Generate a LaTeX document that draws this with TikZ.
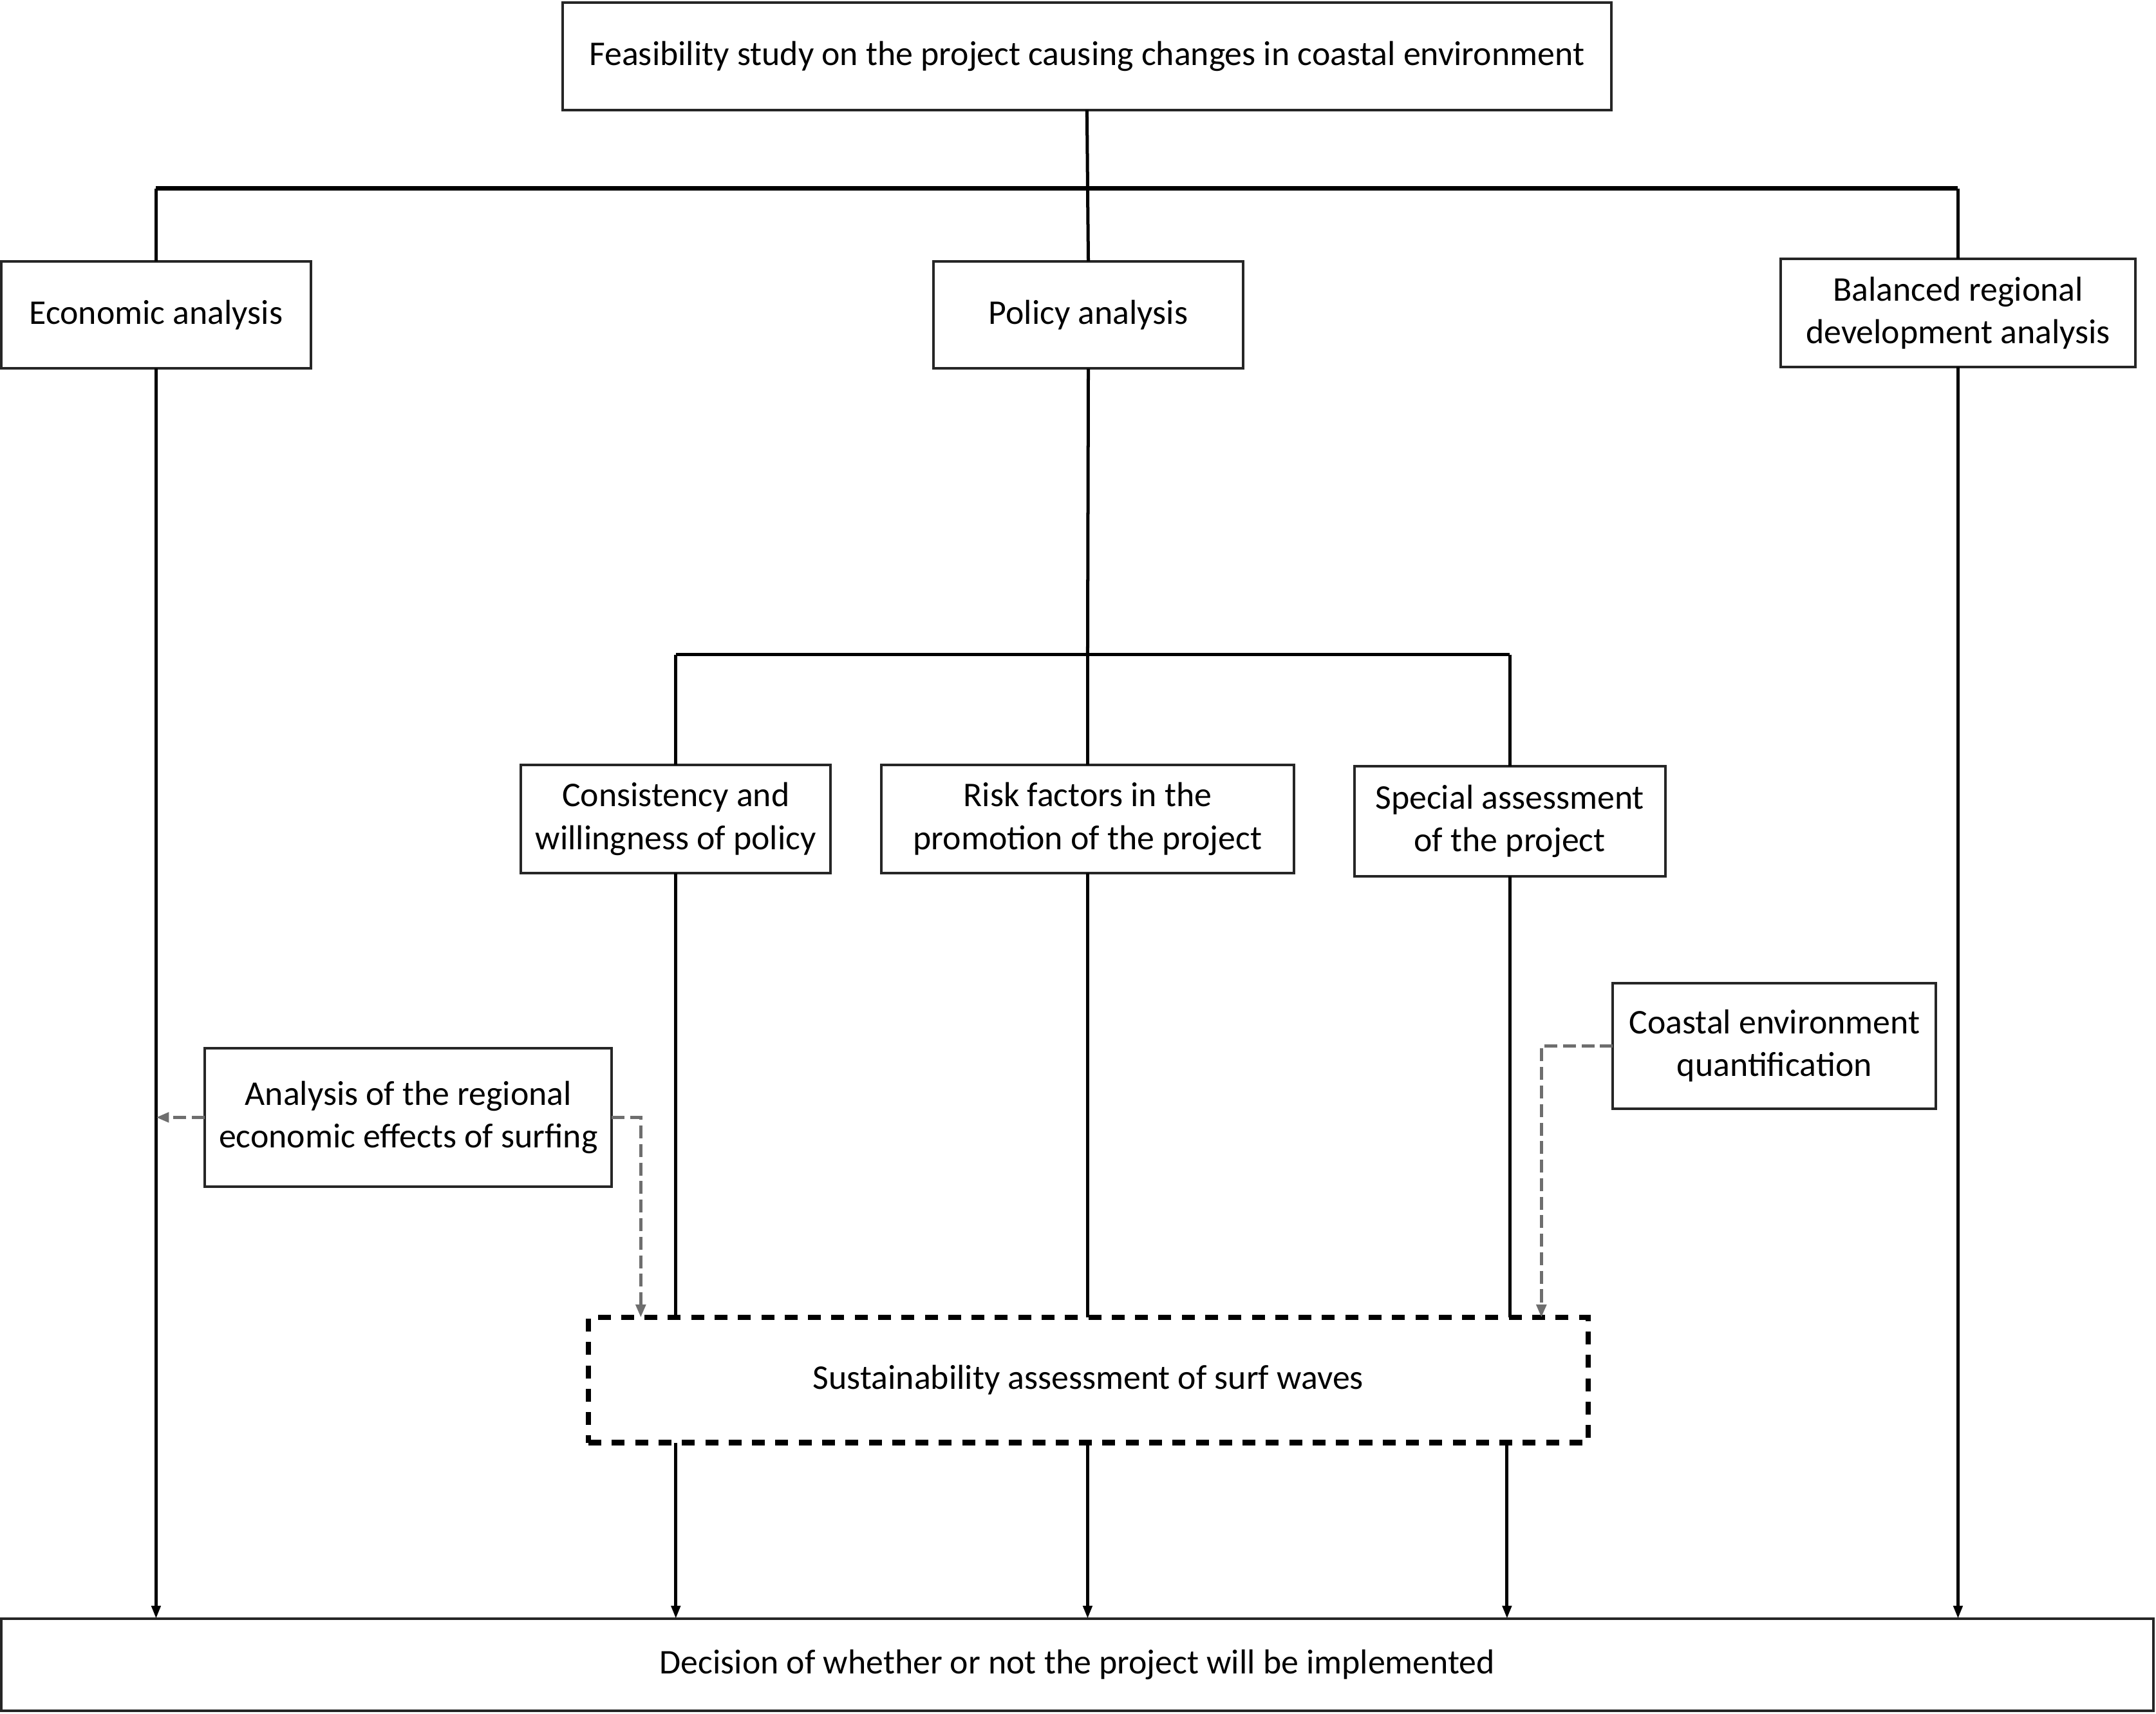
\documentclass[tikz,border=0pt]{standalone}
\usepackage{fontspec}
\setmainfont{Carlito}
\usetikzlibrary{arrows.meta}
\tikzset{
  box/.style={draw=black!85, line width=1.6pt, fill=white, inner sep=0pt, outer sep=0pt,
    align=center, font=\fontsize{21.5}{26.5}\selectfont},
  dbox/.style={box, draw=black, line width=3.4pt, dash pattern=on 8pt off 6.5pt},
  conn/.style={draw=black, line width=2pt},
  bar/.style={draw=black, line width=2.8pt},
  arr/.style={conn, -{Triangle[length=8pt,width=5.5pt]}},
  garr/.style={draw=black!57, line width=2pt, dash pattern=on 8pt off 3.5pt, -{Triangle[length=8pt,width=6pt]}}
}
\begin{document}
\begin{tikzpicture}[x=0.03cm, y=-0.03cm]
\useasboundingbox (0,0) rectangle (1568,1246);
\fill[white] (0,0) rectangle (1568,1246);

\node[box, minimum width=22.89cm, minimum height=2.34cm] (top) at (790.5,41) {Feasibility study on the project causing changes in coastal environment};
\node[box, minimum width=6.75cm, minimum height=2.34cm] (econ) at (113.5,229) {Economic analysis};
\node[box, minimum width=6.75cm, minimum height=2.34cm] (pol) at (791.5,229) {Policy analysis};
\node[box, minimum width=7.74cm, minimum height=2.37cm] (bal) at (1424,227.5) {Balanced regional\\development analysis};
\node[box, minimum width=6.75cm, minimum height=2.37cm] (cons) at (491.5,595.5) {Consistency and\\willingness of policy};
\node[box, minimum width=9.0cm, minimum height=2.37cm] (risk) at (791,595.5) {Risk factors in the\\promotion of the project};
\node[box, minimum width=6.78cm, minimum height=2.4cm] (spec) at (1098,597) {Special assessment\\of the project};
\node[box, minimum width=7.05cm, minimum height=2.73cm] (coast) at (1290.5,760.5) {Coastal environment\\quantification};
\node[box, minimum width=8.88cm, minimum height=3.03cm] (ana) at (297,812.5) {Analysis of the regional\\economic effects of surfing};
\node[dbox, minimum width=21.81cm, minimum height=2.73cm] (sus) at (791.5,1003.5) {Sustainability assessment of surf waves};
\node[box, minimum width=46.95cm, minimum height=2.01cm] (dec) at (783.5,1210.5) {Decision of whether or not the project will be implemented};

% top tree
\coordinate (j1) at (791,137);
\coordinate (jl) at (econ.north |- j1);
\coordinate (jr) at (bal.north |- j1);
\draw[conn] (top.south) -- (j1);
\draw[bar] (jl) -- (jr);
\draw[conn] (jl) -- (econ.north);
\draw[conn] (j1) -- (pol.north);
\draw[conn] (jr) -- (bal.north);

% policy tree
\coordinate (j2) at (791,476);
\coordinate (j2l) at (cons.north |- j2);
\coordinate (j2r) at (spec.north |- j2);
\draw[conn] (pol.south) -- (j2);
\draw[conn] (j2l) -- (j2r);
\draw[conn] (j2l) -- (cons.north);
\draw[conn] (j2) -- (risk.north);
\draw[conn] (j2r) -- (spec.north);

% down to sustainability
\draw[conn] (cons.south) -- (cons.south |- sus.north);
\draw[conn] (risk.south) -- (risk.south |- sus.north);
\draw[conn] (spec.south) -- (spec.south |- sus.north);

% to decision
\draw[arr] (econ.south) -- (econ.south |- dec.north);
\draw[arr] (bal.south) -- (bal.south |- dec.north);
\coordinate (s1) at (cons.south |- sus.south);
\coordinate (s2) at (risk.south |- sus.south);
\coordinate (s3) at (1096,1049);
\draw[arr] (s1) -- (s1 |- dec.north);
\draw[arr] (s2) -- (s2 |- dec.north);
\draw[arr] (s3) -- (s3 |- dec.north);

% gray dashed
\coordinate (g1) at (econ.south |- ana.west);
\draw[garr] (ana.west) -- (g1);
\coordinate (g2) at (466,812.5);
\draw[garr] (ana.east) -- (g2) -- (g2 |- sus.north);
\coordinate (g3) at (1121,760.5);
\draw[garr] (coast.west) -- (g3) -- (g3 |- sus.north);
\end{tikzpicture}
\end{document}
